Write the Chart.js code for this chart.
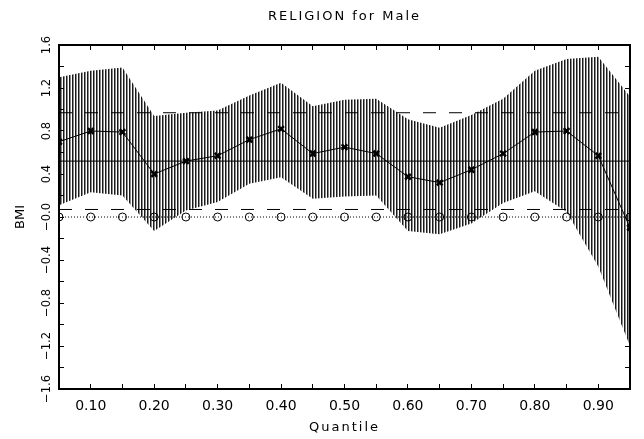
<!DOCTYPE html>
<html>
<head>
<meta charset="utf-8">
<title>RELIGION for Male</title>
<script src="https://cdn.jsdelivr.net/npm/chart.js@4.4.1/dist/chart.umd.min.js"></script>
<style>
  html, body { margin: 0; padding: 0; background: #fff; }
  #wrap { width: 644px; height: 439px; }
</style>
</head>
<body>
<div id="wrap"><canvas id="chart" width="644" height="439"></canvas></div>
<script>
// Quantile regression coefficient for RELIGION, male sample
const quantiles  = [0.05, 0.10, 0.15, 0.20, 0.25, 0.30, 0.35, 0.40, 0.45, 0.50,
                    0.55, 0.60, 0.65, 0.70, 0.75, 0.80, 0.85, 0.90, 0.95];
const estimate   = [0.70, 0.80, 0.79, 0.40, 0.52, 0.57, 0.72, 0.82, 0.59, 0.65,
                    0.59, 0.375, 0.32, 0.44, 0.59, 0.79, 0.80, 0.57, -0.10];
const upperBound = [1.30, 1.36, 1.39, 0.94, 0.97, 0.99, 1.13, 1.25, 1.03, 1.09,
                    1.10, 0.91, 0.83, 0.95, 1.10, 1.36, 1.47, 1.49, 1.12];
const lowerBound = [0.11, 0.23, 0.20, -0.13, 0.06, 0.14, 0.31, 0.37, 0.17, 0.19,
                    0.20, -0.13, -0.16, -0.06, 0.13, 0.24, 0.05, -0.46, -1.20];
const zeroLine   = [0, 0, 0, 0, 0, 0, 0, 0, 0, 0, 0, 0, 0, 0, 0, 0, 0, 0, 0];

// OLS coefficient and its confidence interval
const olsEstimate = 0.52;
const olsUpper = 0.97;
const olsLower = 0.07;

// axis labels
const xTickValues = [0.10, 0.20, 0.30, 0.40, 0.50, 0.60, 0.70, 0.80, 0.90];
const xTickLabels = ['0.10', '0.20', '0.30', '0.40', '0.50', '0.60', '0.70', '0.80', '0.90'];
const yTickValues = [-1.6, -1.2, -0.8, -0.4, 0.0, 0.4, 0.8, 1.2, 1.6];
const yTickLabels = ['\u22121.6', '\u22121.2', '\u22120.8', '\u22120.4', '\u22120.0', '0.4', '0.8', '1.2', '1.6'];

function toPoints(values) {
    return quantiles.map((q, i) => ({ x: q, y: values[i] }));
}

function flatLine(value) {
    return [{ x: quantiles[0], y: value }, { x: quantiles[quantiles.length - 1], y: value }];
}

function labelFor(values, labels, v) {
    const i = values.findIndex(t => Math.abs(t - v) < 1e-6);
    return i >= 0 ? labels[i] : '';
}

// vertical hatching for the confidence band
function hatchPattern() {
    const c = document.createElement('canvas');
    c.width = 3;
    c.height = 1;
    const g = c.getContext('2d');
    g.fillStyle = '#ffffff'; g.fillRect(0, 0, 3, 1);
    g.fillStyle = '#1a1a1a'; g.fillRect(0, 0, 1, 1);
    g.fillStyle = '#8c8c8c'; g.fillRect(1, 0, 1, 1);
    return g.createPattern(c, 'repeat');
}

// wide lettering for titles, plain for tick labels (drawn after datasets)
const spacedText = {
    id: 'spacedText',
    beforeDraw(chart) { chart.ctx.letterSpacing = '2px'; },
    afterDatasetsDraw(chart) { chart.ctx.letterSpacing = '0px'; }
};

const fontFamily = '"DejaVu Sans", sans-serif';
const tickMarks = { drawOnChartArea: false, drawTicks: true, tickLength: -5, tickColor: '#000', tickWidth: 1 };
const frame = { color: '#000', width: 2, z: 1 };

const ctx = document.getElementById('chart');
new Chart(ctx, {
    type: 'line',
    data: {
        datasets: [
            {
                label: 'estimate',
                data: toPoints(estimate),
                borderColor: '#000',
                borderWidth: 1,
                pointStyle: 'crossRot',
                pointRadius: 4,
                pointBorderWidth: 2.5,
                pointBorderColor: '#000',
                order: 1
            },
            {
                label: 'zero',
                data: toPoints(zeroLine),
                borderColor: '#000',
                borderWidth: 1,
                borderDash: [1, 2],
                pointStyle: 'circle',
                pointRadius: 4,
                pointBorderWidth: 1,
                pointBorderColor: '#000',
                pointBackgroundColor: 'rgba(0,0,0,0)',
                order: 2
            },
            {
                label: 'ols',
                data: flatLine(olsEstimate),
                borderColor: '#000',
                borderWidth: 1,
                pointRadius: 0,
                order: 3
            },
            {
                label: 'ols upper',
                data: flatLine(olsUpper),
                borderColor: '#000',
                borderWidth: 1,
                borderDash: [13, 13],
                pointRadius: 0,
                order: 4
            },
            {
                label: 'ols lower',
                data: flatLine(olsLower),
                borderColor: '#000',
                borderWidth: 1,
                borderDash: [13, 13],
                pointRadius: 0,
                order: 5
            },
            {
                label: 'lower',
                data: toPoints(lowerBound),
                borderWidth: 0,
                borderColor: 'rgba(0,0,0,0)',
                pointRadius: 0,
                fill: false,
                order: 7
            },
            {
                label: 'upper',
                data: toPoints(upperBound),
                borderWidth: 0,
                borderColor: 'rgba(0,0,0,0)',
                backgroundColor: hatchPattern(),
                pointRadius: 0,
                fill: '-1',
                order: 6
            }
        ]
    },
    options: {
        responsive: false,
        animation: false,
        devicePixelRatio: 1,
        events: [],
        layout: { padding: { left: 0, right: 14, top: 0, bottom: 0 } },
        plugins: {
            legend: { display: false },
            tooltip: { enabled: false },
            title: {
                display: true,
                text: 'RELIGION for Male',
                fullSize: false,
                color: '#000',
                font: { family: fontFamily, size: 13, weight: 'normal' },
                padding: { top: 9, bottom: 20.4 }
            }
        },
        scales: {
            x: {
                type: 'linear',
                position: 'bottom',
                min: 0.05,
                max: 0.95,
                grid: tickMarks,
                border: frame,
                ticks: {
                    stepSize: 0.05,
                    autoSkip: false,
                    maxRotation: 0,
                    padding: 14,
                    z: 1,
                    color: '#000',
                    font: { family: fontFamily, size: 14 },
                    callback: v => labelFor(xTickValues, xTickLabels, v)
                },
                title: {
                    display: true,
                    text: 'Quantile',
                    color: '#000',
                    font: { family: fontFamily, size: 13 },
                    padding: { top: 0, bottom: 4 }
                },
                afterFit: s => { s.height = 50; }
            },
            x2: {
                type: 'linear',
                position: 'top',
                min: 0.05,
                max: 0.95,
                grid: tickMarks,
                border: frame,
                ticks: { stepSize: 0.05, autoSkip: false, display: false },
                afterFit: s => { s.height = 0; }
            },
            y: {
                type: 'linear',
                position: 'left',
                min: -1.6,
                max: 1.6,
                // grid layer (with the BMI title) drawn after the datasets, unspaced
                grid: { ...tickMarks, z: 1 },
                border: frame,
                ticks: {
                    stepSize: 0.2,
                    autoSkip: false,
                    minRotation: 90,
                    maxRotation: 90,
                    crossAlign: 'center',
                    padding: 3,
                    z: 1,
                    color: '#000',
                    font: { family: fontFamily, size: 11.5 },
                    callback: v => labelFor(yTickValues, yTickLabels, v)
                },
                title: {
                    display: true,
                    text: 'BMI',
                    color: '#000',
                    font: { family: fontFamily, size: 13 },
                    padding: { top: 13, bottom: 0 }
                },
                afterFit: s => { s.width = 59; }
            },
            y2: {
                type: 'linear',
                position: 'right',
                min: -1.6,
                max: 1.6,
                grid: tickMarks,
                border: frame,
                ticks: { stepSize: 0.2, autoSkip: false, display: false },
                afterFit: s => { s.width = 0; }
            }
        }
    },
    plugins: [spacedText]
});
</script>
</body>
</html>
